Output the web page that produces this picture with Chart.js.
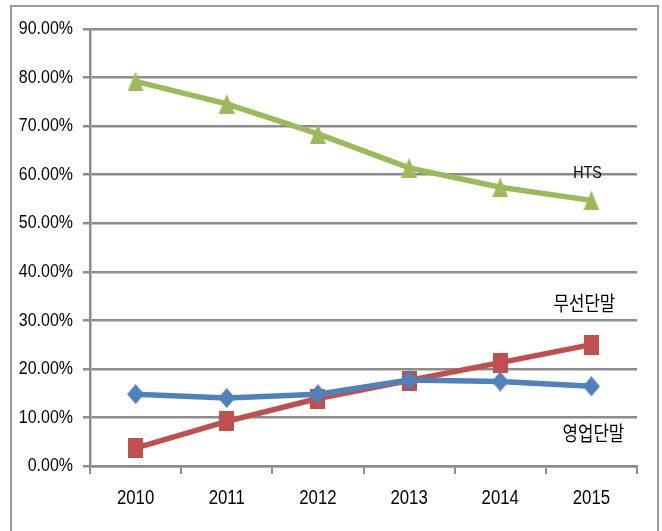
<!DOCTYPE html>
<html>
<head>
<meta charset="utf-8">
<script src="https://cdn.jsdelivr.net/npm/chart.js@4/dist/chart.umd.min.js"></script>
<style>
  html, body { margin: 0; padding: 0; background: #fff; }
  #wrap { position: relative; width: 662px; height: 531px; }
  #frame { position: absolute; left: 10px; top: 5px; width: 649px; height: 540px; border: 2px solid #9a9a9a; box-sizing: border-box; }
  canvas { position: absolute; left: 0; top: 0; }
</style>
</head>
<body>
<div id="wrap">
  <div id="frame"></div>
  <canvas id="chart" width="662" height="531"></canvas>
</div>
<script>
// data (percent)
const years = ['2010', '2011', '2012', '2013', '2014', '2015'];
const htsValues = [79.2, 74.6, 68.4, 61.4, 57.4, 54.7];
const wirelessValues = [3.7, 9.2, 13.9, 17.6, 21.3, 25.0];
const salesValues = [14.8, 14.0, 14.8, 17.7, 17.4, 16.4];
const yTicks = [0, 10, 20, 30, 40, 50, 60, 70, 80, 90];

// the picture is squeezed sideways, so text gets drawn a bit narrow
const SQUEEZE = 0.84;
const latin = "'Liberation Sans', Arial, sans-serif";
const korean = "'Noto Sans CJK KR', sans-serif";

// series name labels drawn next to the lines
const seriesLabels = [
    { text: 'HTS', idx: 5, value: 60.3, dx: -4, font: '17px ' + latin },
    { text: '무선단말', idx: 5, value: 33.5, dx: -7, font: '20px ' + korean },
    { text: '영업단말', idx: 5, value: 6.8, dx: 2, font: '20px ' + korean }
];

function squeezedText(ctx, text, x, y) {
    ctx.save();
    ctx.translate(x, y);
    ctx.scale(SQUEEZE, 1);
    ctx.fillText(text, 0, 0);
    ctx.restore();
}

function makeMarker(kind, w, h, color) {
    const c = document.createElement('canvas');
    c.width = w; c.height = h;
    const g = c.getContext('2d');
    g.fillStyle = color;
    g.beginPath();
    if (kind === 'tri') {
        g.moveTo(w / 2, 0); g.lineTo(w, h); g.lineTo(0, h);
    } else if (kind === 'diamond') {
        g.moveTo(w / 2, 0); g.lineTo(w, h / 2); g.lineTo(w / 2, h); g.lineTo(0, h / 2);
    } else {
        g.rect(0, 0, w, h);
    }
    g.closePath();
    g.fill();
    return c;
}

const textPlugin = {
    id: 'textLabels',
    afterDraw(chart) {
        const ctx = chart.ctx;
        const xs = chart.scales.x, ys = chart.scales.y;
        ctx.save();
        ctx.fillStyle = '#000';
        ctx.textBaseline = 'middle';

        // y tick labels
        ctx.font = '19px ' + latin;
        ctx.textAlign = 'right';
        ys.ticks.forEach(t => squeezedText(ctx, t.value.toFixed(2) + '%', xs.left - 17, ys.getPixelForValue(t.value)));

        // x tick labels
        ctx.font = '20px ' + latin;
        ctx.textAlign = 'center';
        years.forEach((y, i) => squeezedText(ctx, y, xs.getPixelForValue(i), xs.top + 32));

        // series names
        seriesLabels.forEach(l => {
            ctx.font = l.font;
            squeezedText(ctx, l.text, xs.getPixelForValue(l.idx) + l.dx, ys.getPixelForValue(l.value));
        });
        ctx.restore();
    }
};

const ctx = document.getElementById('chart').getContext('2d');
new Chart(ctx, {
    type: 'line',
    data: {
        labels: years,
        datasets: [
            { label: '영업단말', data: salesValues, borderColor: '#4F81BD', backgroundColor: '#4F81BD', borderWidth: 5.5, pointStyle: makeMarker('diamond', 17, 20, '#4F81BD') },
            { label: '무선단말', data: wirelessValues, borderColor: '#C0504D', backgroundColor: '#C0504D', borderWidth: 5.5, pointStyle: makeMarker('rect', 15, 20, '#C0504D') },
            { label: 'HTS', data: htsValues, borderColor: '#9BBB59', backgroundColor: '#9BBB59', borderWidth: 5.5, pointStyle: makeMarker('tri', 16, 20, '#9BBB59') }
        ]
    },
    options: {
        responsive: false,
        animation: false,
        layout: { padding: { top: 29, right: 25, left: 0, bottom: 0 } },
        plugins: { legend: { display: false }, tooltip: { enabled: false } },
        scales: {
            x: {
                offset: true,
                grid: { drawOnChartArea: false, drawTicks: true, tickLength: 8, color: '#8c8c8c', lineWidth: 2, offset: true },
                border: { color: '#8c8c8c', width: 2.5 },
                ticks: { display: false },
                afterFit(scale) { scale.height = 65; }
            },
            y: {
                min: 0, max: 90,
                afterBuildTicks(scale) { scale.ticks = yTicks.map(v => ({ value: v })); },
                grid: { color: '#8c8c8c', lineWidth: 2.5, tickLength: 7 },
                border: { color: '#8c8c8c', width: 2.5 },
                ticks: { display: false },
                afterFit(scale) { scale.width = 90; }
            }
        }
    },
    plugins: [textPlugin]
});
</script>
</body>
</html>
